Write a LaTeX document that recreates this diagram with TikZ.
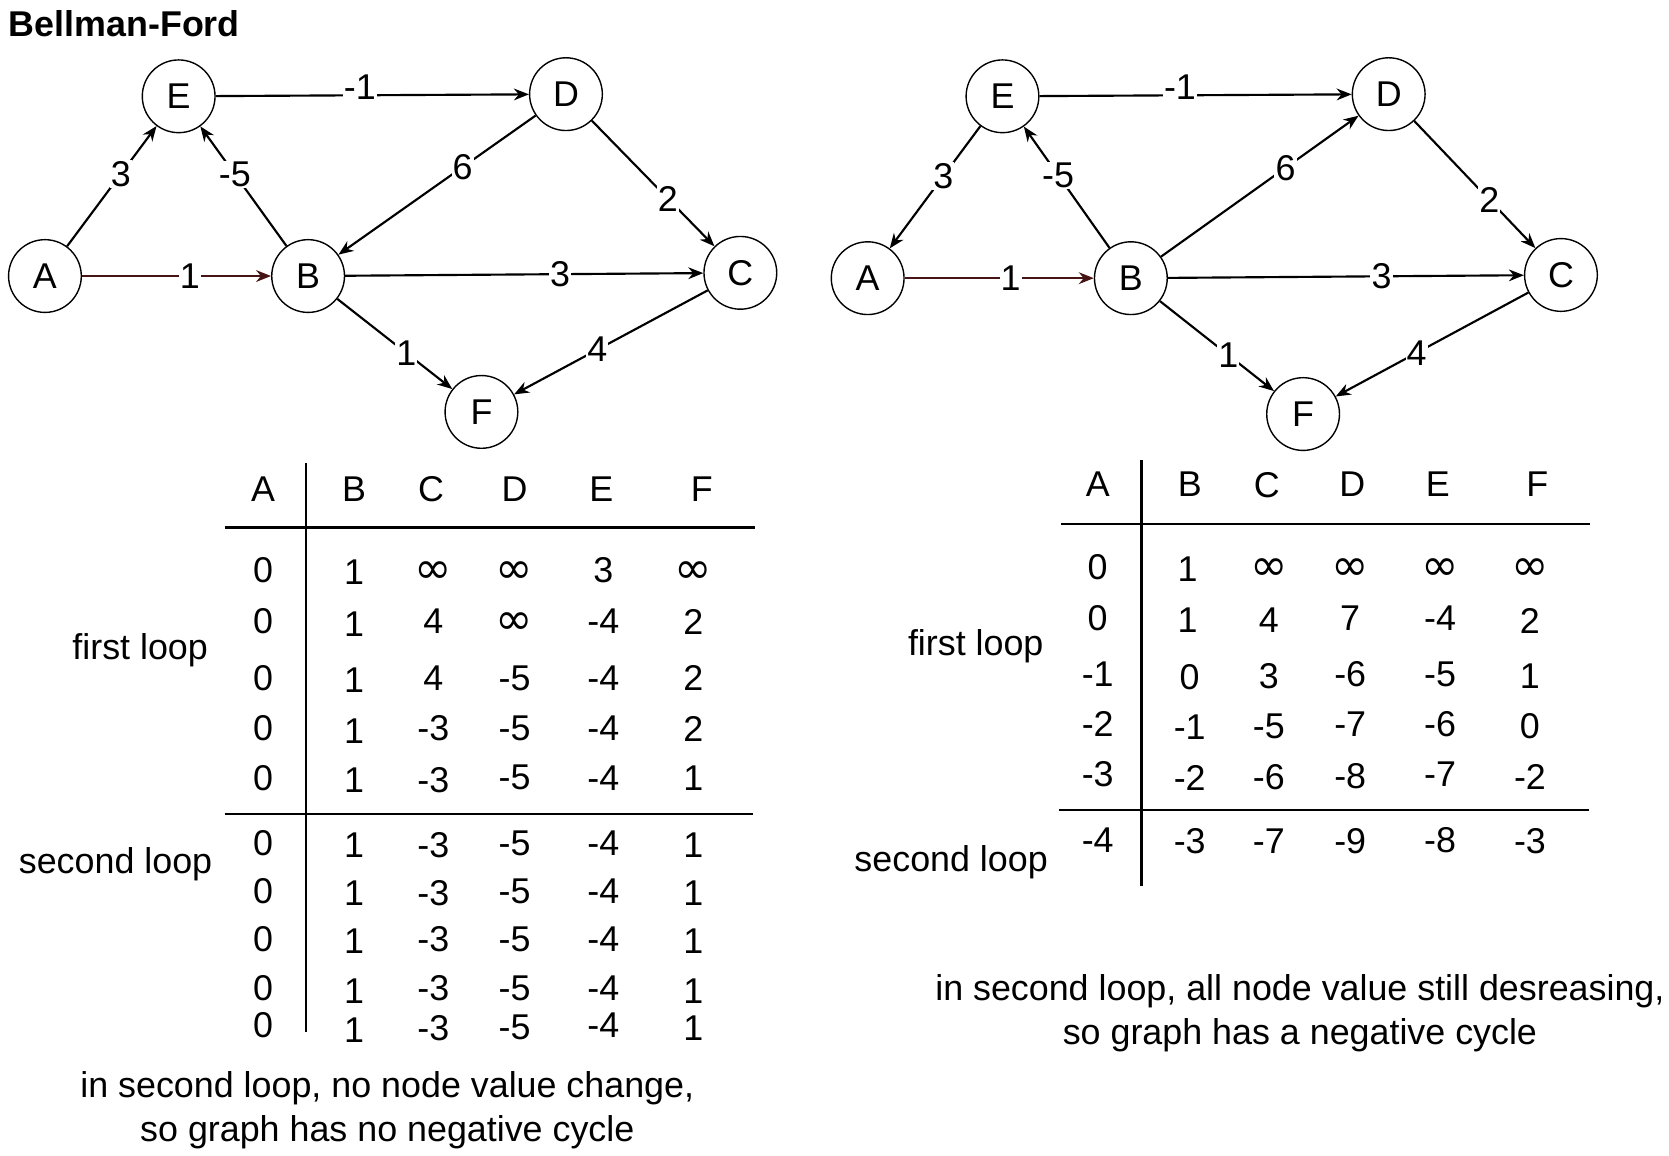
\documentclass[tikz,border=0pt]{standalone}
\usepackage{fontspec}
\setmainfont{Liberation Sans}
\newfontfamily\symfont{DejaVu Sans}
\usetikzlibrary{arrows.meta}
\definecolor{darkred}{RGB}{70,20,20}
\newcommand{\infsym}{{\symfont\fontsize{42}{42}\selectfont ∞}}
\tikzset{
  vert/.style={draw, circle, minimum size=68pt, inner sep=0pt, line width=1.3pt},
  edge/.style={-{Stealth[length=14pt,width=11pt]}, line width=2pt},
  wt/.style={fill=white, inner sep=1pt},
  rule/.style={line width=2.2pt},
}
\begin{document}
\begin{tikzpicture}[x=1pt, y=-1pt, font=\fontsize{33.5}{41}\selectfont]
  \useasboundingbox (0,0) rectangle (1560,1080);
  \path (8,22) node[anchor=west, inner sep=0pt, font=\fontsize{33.5}{40}\selectfont\bfseries] (title) {Bellman-Ford};

  % left graph
  \path (167,90) node[vert] (lE) {E};
  \path (529,88) node[vert] (lD) {D};
  \path (42,258) node[vert] (lA) {A};
  \path (288,258) node[vert] (lB) {B};
  \path (692,255) node[vert] (lC) {C};
  \path (450,385) node[vert] (lF) {F};

  \draw[edge] (lA) -- node[wt,pos=0.6] {3} (lE);
  \draw[edge] (lB) -- node[wt,pos=0.6] {-5} (lE);
  \draw[edge] (lE) -- node[wt,pos=0.46,yshift=8pt] {-1} (lD);
  \draw[edge] (lD) -- node[wt,pos=0.37] {6} (lB);
  \draw[edge] (lD) -- node[wt,pos=0.62] {2} (lC);
  \draw[edge,darkred] (lA) -- node[wt,pos=0.57,text=black] {1} (lB);
  \draw[edge] (lB) -- node[wt,pos=0.6] {3} (lC);
  \draw[edge] (lB) -- node[wt,pos=0.6] {1} (lF);
  \draw[edge] (lC) -- node[wt,pos=0.57] {4} (lF);

  % right graph
  \path (937,90) node[vert] (rE) {E};
  \path (1298,88) node[vert] (rD) {D};
  \path (811,260) node[vert] (rA) {A};
  \path (1057,260) node[vert] (rB) {B};
  \path (1459,257) node[vert] (rC) {C};
  \path (1218,387) node[vert] (rF) {F};

  \draw[edge] (rE) -- node[wt,pos=0.41] {3} (rA);
  \draw[edge] (rB) -- node[wt,pos=0.6] {-5} (rE);
  \draw[edge] (rE) -- node[wt,pos=0.45,yshift=8pt] {-1} (rD);
  \draw[edge] (rB) -- node[wt,pos=0.63] {6} (rD);
  \draw[edge] (rD) -- node[wt,pos=0.62] {2} (rC);
  \draw[edge,darkred] (rA) -- node[wt,pos=0.56,text=black] {1} (rB);
  \draw[edge] (rB) -- node[wt,pos=0.6] {3} (rC);
  \draw[edge] (rB) -- node[wt,pos=0.6] {1} (rF);
  \draw[edge] (rC) -- node[wt,pos=0.58] {4} (rF);

  % left table
  \draw[rule] (286,433) -- (286,965);
  \draw[rule] (210,493) -- (706,493);
  \draw[rule] (210,761) -- (704,761);
  \path (246,457) node (lhA) {A} (331,457) node (lhB) {B} (403,457) node (lhC) {C}
        (481,457) node (lhD) {D} (562,457) node (lhE) {E} (656,457) node (lhF) {F};
  \path (246,533) node (la1) {0} (331,535) node (lb1) {1} (405,535) node (lc1) {\infsym}
        (481,535) node (ld1) {\infsym} (564,533) node (le1) {3} (648,535) node (lf1) {\infsym};
  \path (246,581) node (la2) {0} (331,583) node (lb2) {1} (405,581) node (lc2) {4}
        (481,583) node (ld2) {\infsym} (564,581) node (le2) {-4} (648,581) node (lf2) {2};
  \path (246,634) node (la3) {0} (331,636) node (lb3) {1} (405,634) node (lc3) {4}
        (481,634) node (ld3) {-5} (564,634) node (le3) {-4} (648,634) node (lf3) {2};
  \path (246,681) node (la4) {0} (331,683) node (lb4) {1} (405,681) node (lc4) {-3}
        (481,681) node (ld4) {-5} (564,681) node (le4) {-4} (648,681) node (lf4) {2};
  \path (246,727) node (la5) {0} (331,729) node (lb5) {1} (405,729) node (lc5) {-3}
        (481,727) node (ld5) {-5} (564,727) node (le5) {-4} (648,727) node (lf5) {1};
  \path (246,788) node (la6) {0} (331,790) node (lb6) {1} (405,790) node (lc6) {-3}
        (481,788) node (ld6) {-5} (564,788) node (le6) {-4} (648,790) node (lf6) {1};
  \path (246,833) node (la7) {0} (331,835) node (lb7) {1} (405,835) node (lc7) {-3}
        (481,833) node (ld7) {-5} (564,833) node (le7) {-4} (648,835) node (lf7) {1};
  \path (246,878) node (la8) {0} (331,880) node (lb8) {1} (405,878) node (lc8) {-3}
        (481,878) node (ld8) {-5} (564,878) node (le8) {-4} (648,880) node (lf8) {1};
  \path (246,924) node (la9) {0} (331,926) node (lb9) {1} (405,924) node (lc9) {-3}
        (481,924) node (ld9) {-5} (564,924) node (le9) {-4} (648,926) node (lf9) {1};
  \path (246,958) node (la10) {0} (331,963) node (lb10) {1} (405,961) node (lc10) {-3}
        (481,960) node (ld10) {-5} (564,958) node (le10) {-4} (648,961) node (lf10) {1};
  \path (131,608) node (lfirst) {first loop};
  \path (108,808) node (lsecond) {second loop};
  \path (362,1038) node[align=center] (lnote) {in second loop, no node value change,\\so graph has no negative cycle};

  % right table
  \draw[rule] (1067,430) -- (1067,828);
  \draw[rule] (992,490) -- (1486,490);
  \draw[rule] (990,757) -- (1485,757);
  \path (1026,453) node (rhA) {A} (1112,453) node (rhB) {B} (1184,453) node (rhC) {C}
        (1264,453) node (rhD) {D} (1344,453) node (rhE) {E} (1437,453) node (rhF) {F};
  \path (1026,530) node (ra1) {0} (1110,532) node (rb1) {1} (1186,532) node (rc1) {\infsym}
        (1262,532) node (rd1) {\infsym} (1346,532) node (re1) {\infsym} (1430,532) node (rf1) {\infsym};
  \path (1026,578) node (ra2) {0} (1110,580) node (rb2) {1} (1186,580) node (rc2) {4}
        (1262,578) node (rd2) {7} (1346,578) node (re2) {-4} (1430,580) node (rf2) {2};
  \path (1026,630) node (ra3) {-1} (1112,633) node (rb3) {0} (1186,632) node (rc3) {3}
        (1262,630) node (rd3) {-6} (1346,630) node (re3) {-5} (1430,632) node (rf3) {1};
  \path (1026,677) node (ra4) {-2} (1112,680) node (rb4) {-1} (1186,679) node (rc4) {-5}
        (1262,677) node (rd4) {-7} (1346,677) node (re4) {-6} (1430,679) node (rf4) {0};
  \path (1026,724) node (ra5) {-3} (1112,727) node (rb5) {-2} (1186,726) node (rc5) {-6}
        (1262,725) node (rd5) {-8} (1346,724) node (re5) {-7} (1430,726) node (rf5) {-2};
  \path (1026,785) node (ra6) {-4} (1112,786) node (rb6) {-3} (1186,786) node (rc6) {-7}
        (1262,786) node (rd6) {-9} (1346,785) node (re6) {-8} (1430,786) node (rf6) {-3};
  \path (912,604) node (rfirst) {first loop};
  \path (889,806) node (rsecond) {second loop};
  \path (1215,947) node[align=center] (rnote) {in second loop, all node value still desreasing,\\so graph has a negative cycle};
\end{tikzpicture}
\end{document}
